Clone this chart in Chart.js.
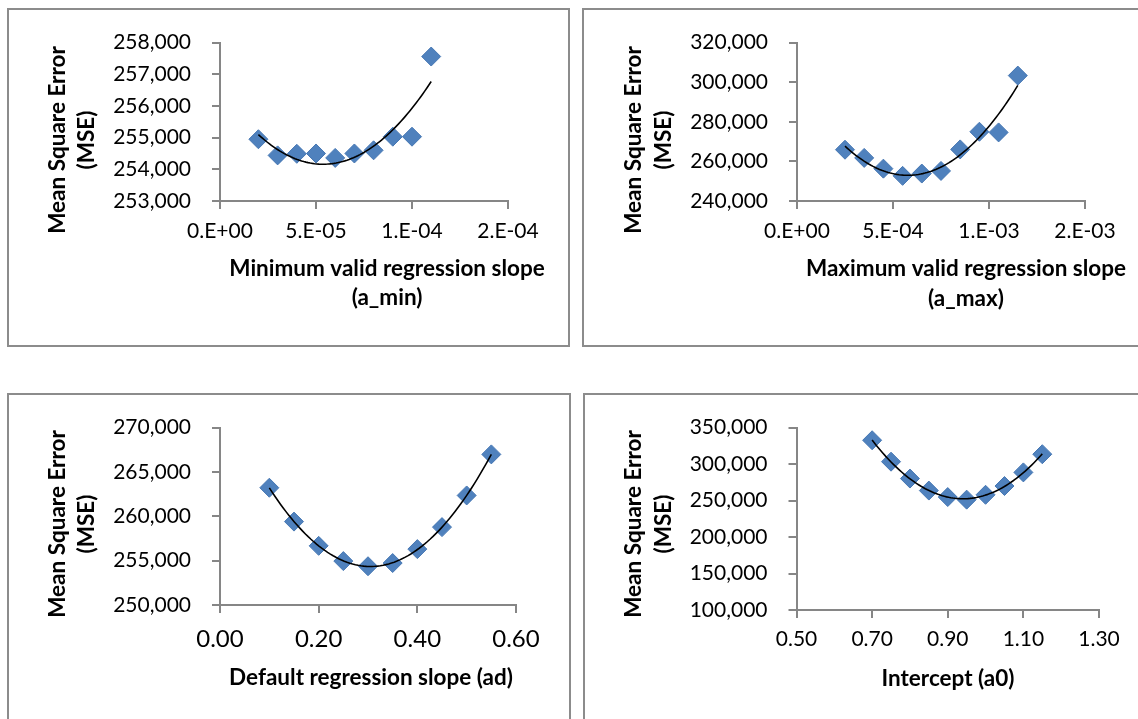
<!DOCTYPE html>
<html>
<head>
<meta charset="utf-8">
<script src="https://cdn.jsdelivr.net/npm/chart.js@4.4.0/dist/chart.umd.min.js"></script>
<style>
html,body{margin:0;padding:0;background:#fff;overflow:hidden;width:1138px;height:719px;}
canvas{position:absolute;}
.box{position:absolute;border:2px solid #8c8c8c;box-sizing:border-box;pointer-events:none;}
</style>
</head>
<body>
<canvas id="c1" width="560" height="336" style="left:8px;top:9px"></canvas>
<canvas id="c2" width="560" height="336" style="left:583px;top:9px"></canvas>
<canvas id="c3" width="561" height="330" style="left:8px;top:394px"></canvas>
<canvas id="c4" width="560" height="330" style="left:584px;top:394px"></canvas>
<div class="box" style="left:7px;top:8px;width:563px;height:339px"></div>
<div class="box" style="left:582px;top:8px;width:563px;height:339px"></div>
<div class="box" style="left:7px;top:393px;width:564px;height:340px"></div>
<div class="box" style="left:583px;top:393px;width:563px;height:340px"></div>
<script>
// ---------- DATA ----------
// Panel 1: Minimum valid regression slope (a_min)
const aMinX = [2e-5, 3e-5, 4e-5, 5e-5, 6e-5, 7e-5, 8e-5, 9e-5, 1.0e-4, 1.1e-4];
const aMinMSE = [254950, 254440, 254490, 254500, 254360, 254500, 254600, 255030, 255030, 257560];
const aMinXTicks = [0, 5e-5, 1e-4, 1.5e-4];
const aMinXTickLabels = ["0.E+00", "5.E-05", "1.E-04", "2.E-04"];
const aMinYTicks = [253000, 254000, 255000, 256000, 257000, 258000];

// Panel 2: Maximum valid regression slope (a_max)
const aMaxX = [2.5e-4, 3.5e-4, 4.5e-4, 5.5e-4, 6.5e-4, 7.5e-4, 8.5e-4, 9.5e-4, 1.05e-3, 1.15e-3];
const aMaxMSE = [265900, 261770, 256330, 252700, 253860, 255180, 266060, 274970, 274640, 303340];
const aMaxXTicks = [0, 5e-4, 1e-3, 1.5e-3];
const aMaxXTickLabels = ["0.E+00", "5.E-04", "1.E-03", "2.E-03"];
const aMaxYTicks = [240000, 260000, 280000, 300000, 320000];

// Panel 3: Default regression slope (ad)
const adX = [0.10, 0.15, 0.20, 0.25, 0.30, 0.35, 0.40, 0.45, 0.50, 0.55];
const adMSE = [263220, 259400, 256670, 254950, 254370, 254730, 256300, 258780, 262350, 266980];
const adXTicks = [0, 0.2, 0.4, 0.6];
const adXTickLabels = ["0.00", "0.20", "0.40", "0.60"];
const adYTicks = [250000, 255000, 260000, 265000, 270000];

// Panel 4: Intercept (a0)
const a0X = [0.70, 0.75, 0.80, 0.85, 0.90, 0.95, 1.00, 1.05, 1.10, 1.15];
const a0MSE = [332650, 303290, 280160, 263700, 254800, 251250, 257920, 269930, 288610, 313520];
const a0XTicks = [0.5, 0.7, 0.9, 1.1, 1.3];
const a0XTickLabels = ["0.50", "0.70", "0.90", "1.10", "1.30"];
const a0YTicks = [100000, 150000, 200000, 250000, 300000, 350000];

const yTitle = ["Mean Square Error", "(MSE)"];

// ---------- Trendline: least-squares 2nd-order polynomial of the data (as in the original) ----------
function quadFit(xs, ys) {
  const n = xs.length;
  const mx = xs.reduce((a, b) => a + b, 0) / n;
  const sx = Math.max(...xs.map(x => Math.abs(x - mx)));
  let S1 = 0, S2 = 0, S3 = 0, S4 = 0, T0 = 0, T1 = 0, T2 = 0;
  xs.forEach((x, i) => {
    const u = (x - mx) / sx, y = ys[i];
    S1 += u; S2 += u * u; S3 += u ** 3; S4 += u ** 4;
    T0 += y; T1 += u * y; T2 += u * u * y;
  });
  const det3 = m => m[0][0]*(m[1][1]*m[2][2]-m[1][2]*m[2][1]) - m[0][1]*(m[1][0]*m[2][2]-m[1][2]*m[2][0]) + m[0][2]*(m[1][0]*m[2][1]-m[1][1]*m[2][0]);
  const M = [[n, S1, S2], [S1, S2, S3], [S2, S3, S4]];
  const R = [T0, T1, T2];
  const D = det3(M);
  const col = k => M.map((row, i) => row.map((v, j) => j === k ? R[i] : v));
  const c = det3(col(0)) / D, b = det3(col(1)) / D, a = det3(col(2)) / D;
  return x => { const u = (x - mx) / sx; return c + b * u + a * u * u; };
}
function trendPoints(xs, ys) {
  const f = quadFit(xs, ys);
  const lo = xs[0], hi = xs[xs.length - 1], N = 80, pts = [];
  for (let i = 0; i <= N; i++) { const x = lo + (hi - lo) * i / N; pts.push({x, y: f(x)}); }
  return pts;
}

// ---------- axis-title plugin ----------
const axisTitles = {
  id: 'axisTitles',
  afterDraw(chart, args, o) {
    const ctx = chart.ctx;
    ctx.save();
    ctx.fillStyle = '#000';
    ctx.font = o.font;
    ctx.textAlign = 'center';
    ctx.textBaseline = 'middle';
    o.xLines.forEach((t, i) => ctx.fillText(t, o.xCx, o.xYs[i]));
    o.yLines.forEach((t, i) => {
      ctx.save();
      ctx.translate(o.yXs[i], o.yCy);
      ctx.rotate(-Math.PI / 2);
      ctx.fillText(t, 0, 0);
      ctx.restore();
    });
    ctx.restore();
  }
};

const axisColor = '#868686';
const tickFont = {family: 'Lato', size: 21};

function makePanel(id, xs, ys, xTicks, xLabels, yTicks, g) {
  const cv = document.getElementById(id);
  const W = cv.width, H = cv.height;
  new Chart(cv, {
    type: 'scatter',
    data: {
      datasets: [
        {
          type: 'line',
          data: trendPoints(xs, ys),
          borderColor: '#000',
          borderWidth: 1.6,
          pointRadius: 0,
          fill: false,
          tension: 0,
          order: 0
        },
        {
          data: xs.map((x, i) => ({x, y: ys[i]})),
          pointStyle: 'rectRot',
          pointRadius: 9.5,
          backgroundColor: '#4f81bd',
          borderColor: '#4677b3',
          borderWidth: 1,
          order: 1
        }
      ]
    },
    options: {
      responsive: false,
      animation: false,
      devicePixelRatio: 1,
      layout: {padding: {left: 0, top: g.top, right: W - g.right, bottom: 0}},
      plugins: {
        legend: {display: false},
        tooltip: {enabled: false},
        axisTitles: g.titles
      },
      scales: {
        x: {
          type: 'linear',
          min: xTicks[0], max: xTicks[xTicks.length - 1],
          afterBuildTicks: s => { s.ticks = xTicks.map(v => ({value: v})); },
          afterFit: s => { s.height = H - g.bottom; },
          ticks: {
            color: '#000', font: g.xTickFont || tickFont, padding: g.xPad,
            maxRotation: 0, autoSkip: false,
            callback: (v, i) => xLabels[i]
          },
          grid: {drawOnChartArea: false, drawTicks: true, tickLength: 8, color: axisColor, lineWidth: 2},
          border: {display: true, color: axisColor, width: 2}
        },
        y: {
          type: 'linear',
          min: yTicks[0], max: yTicks[yTicks.length - 1],
          afterBuildTicks: s => { s.ticks = yTicks.map(v => ({value: v})); },
          afterFit: s => { s.width = g.left; },
          ticks: {
            color: '#000', font: tickFont, padding: 21,
            callback: v => v.toLocaleString('en-US')
          },
          grid: {drawOnChartArea: false, drawTicks: true, tickLength: 8, color: axisColor, lineWidth: 2},
          border: {display: true, color: axisColor, width: 2}
        }
      }
    },
    plugins: [axisTitles]
  });
}

const titleFont = 'bold 22.5px Lato';

makePanel('c1', aMinX, aMinMSE, aMinXTicks, aMinXTickLabels, aMinYTicks, {
  left: 212, right: 500, top: 30, bottom: 192, xPad: 10,
  titles: {font: titleFont, xLines: ["Minimum valid regression slope", "(a_min)"], xCx: 379, xYs: [260, 289],
           yLines: yTitle, yXs: [50, 79], yCy: 131}
});
makePanel('c2', aMaxX, aMaxMSE, aMaxXTicks, aMaxXTickLabels, aMaxYTicks, {
  left: 214, right: 502, top: 30, bottom: 192, xPad: 10,
  titles: {font: titleFont, xLines: ["Maximum valid regression slope", "(a_max)"], xCx: 383, xYs: [260, 290],
           yLines: yTitle, yXs: [51, 81], yCy: 131}
});
makePanel('c3', adX, adMSE, adXTicks, adXTickLabels, adYTicks, {
  left: 212, right: 508, top: 28, bottom: 211, xPad: 12, xTickFont: {family: 'Lato', size: 24},
  titles: {font: titleFont, xLines: ["Default regression slope (ad)"], xCx: 363, xYs: [284],
           yLines: yTitle, yXs: [50, 79], yCy: 130}
});
makePanel('c4', a0X, a0MSE, a0XTicks, a0XTickLabels, a0YTicks, {
  left: 212.5, right: 515, top: 29, bottom: 216, xPad: 9,
  titles: {font: titleFont, xLines: ["Intercept (a0)"], xCx: 364, xYs: [285],
           yLines: yTitle, yXs: [50, 80], yCy: 130}
});
</script>
</body>
</html>
